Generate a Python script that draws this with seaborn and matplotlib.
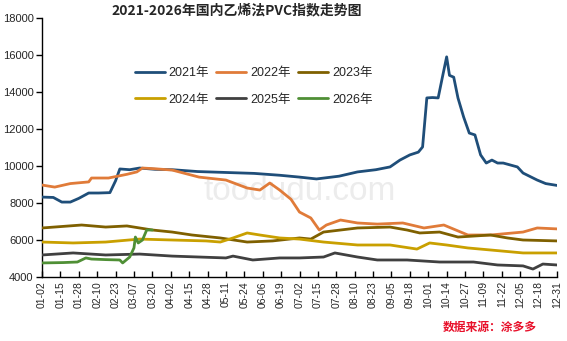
import numpy as np
import pandas as pd
import matplotlib
matplotlib.use("Agg")
import matplotlib.pyplot as plt
import seaborn as sns
import datetime as dt

sns.set_theme(style="white")
plt.rcParams['font.family'] = ['Liberation Sans', 'Noto Sans CJK SC']

# day index from 01-02 (leap-year calendar for the mm-dd tick labels)
days_2021 = [0, 8, 14, 20, 26, 33, 40, 48, 52, 55, 62, 69, 80, 92, 110, 130, 150, 168, 182, 194, 210, 223, 236, 246, 253, 260, 266, 269, 272, 276, 280, 283, 286, 288, 291, 294, 298, 302, 306, 310, 314, 318, 322, 326, 336, 340, 350, 356, 364]
vals_2021 = [8320, 8300, 8050, 8050, 8250, 8540, 8540, 8560, 9200, 9840, 9800, 9890, 9820, 9800, 9700, 9650, 9600, 9500, 9400, 9300, 9450, 9680, 9800, 9950, 10320, 10600, 10750, 11030, 13680, 13700, 13680, 14800, 15900, 14900, 14800, 13680, 12650, 11780, 11680, 10600, 10160, 10320, 10160, 10160, 9950, 9620, 9240, 9050, 8950]

days_2022 = [0, 9, 20, 33, 35, 47, 60, 67, 71, 80, 92, 111, 130, 145, 154, 161, 168, 176, 182, 190, 196, 201, 211, 223, 237, 255, 270, 284, 301, 317, 340, 350, 364]
vals_2022 = [8970, 8860, 9050, 9140, 9350, 9350, 9550, 9680, 9890, 9850, 9780, 9400, 9240, 8810, 8700, 9080, 8700, 8200, 7510, 7190, 6540, 6810, 7080, 6920, 6860, 6920, 6650, 6810, 6270, 6270, 6430, 6650, 6600]

days_2023 = [0, 28, 45, 60, 78, 92, 106, 126, 145, 163, 182, 190, 199, 211, 223, 246, 258, 267, 281, 294, 317, 329, 340, 364]
vals_2023 = [6650, 6810, 6700, 6760, 6540, 6430, 6270, 6110, 5890, 5950, 6110, 6050, 6430, 6540, 6650, 6700, 6540, 6380, 6430, 6160, 6270, 6110, 6000, 5950]

days_2024 = [0, 22, 45, 69, 92, 116, 126, 135, 145, 154, 168, 182, 199, 223, 246, 265, 274, 286, 301, 317, 340, 364]
vals_2024 = [5890, 5840, 5890, 6050, 6000, 5950, 5890, 6110, 6380, 6270, 6110, 6050, 5890, 5730, 5730, 5510, 5840, 5730, 5570, 5460, 5300, 5300]

days_2025 = [0, 22, 45, 69, 92, 111, 130, 135, 149, 168, 182, 199, 207, 223, 237, 258, 281, 305, 322, 340, 347, 354, 364]
vals_2025 = [5190, 5300, 5190, 5240, 5130, 5080, 5030, 5130, 4920, 5030, 5030, 5080, 5300, 5080, 4920, 4920, 4810, 4810, 4650, 4600, 4430, 4700, 4650]

days_2026 = [0, 15, 25, 31, 35, 45, 55, 57, 62, 65, 66, 68, 71, 74, 78]
vals_2026 = [4760, 4780, 4810, 5030, 4970, 4940, 4920, 4760, 5080, 5570, 6160, 5840, 6000, 6540, 6540]

series_names = ['2021年', '2022年', '2023年', '2024年', '2025年', '2026年']
colors = ['#1f4e79', '#e07b39', '#7f6000', '#c9a000', '#404040', '#4f8f35']

y_ticks = [4000, 6000, 8000, 10000, 12000, 14000, 16000, 18000]
base = dt.date(2020, 1, 2)
x_ticks = list(range(0, 365, 13))
x_labels = [(base + dt.timedelta(days=d)).strftime('%m-%d') for d in x_ticks]

frames = []
for name, d, v in zip(series_names,
                      [days_2021, days_2022, days_2023, days_2024, days_2025, days_2026],
                      [vals_2021, vals_2022, vals_2023, vals_2024, vals_2025, vals_2026]):
    frames.append(pd.DataFrame({'day': d, 'value': v, 'year': name}))
df = pd.concat(frames, ignore_index=True)

fig = plt.figure(figsize=(5.67, 3.41), dpi=100)
ax = fig.add_axes([42/567, 1-277/341, 515/567, 259/341])

# watermark
ax.text(0.5, 0.33, 'toodudu.com', transform=ax.transAxes, ha='center', va='center',
        fontsize=24, color='#ececec', zorder=0)

sns.lineplot(data=df, x='day', y='value', hue='year', palette=colors,
             estimator=None, sort=False, linewidth=2.0, ax=ax, zorder=3)

ax.set_xlim(0, 364)
ax.set_ylim(4000, 18000)
ax.set_yticks(y_ticks)
ax.set_yticklabels([str(t) for t in y_ticks], fontsize=8)
ax.set_xticks(x_ticks)
ax.set_xticklabels(x_labels, rotation=90, fontsize=7.5)
ax.set_xlabel('')
ax.set_ylabel('')
for s in ['top', 'right']:
    ax.spines[s].set_visible(False)
for s in ['left', 'bottom']:
    ax.spines[s].set_color('black')
    ax.spines[s].set_linewidth(1.0)
ax.tick_params(axis='y', direction='out', length=4, width=1, color='black', pad=2, left=True)
ax.tick_params(axis='x', direction='in', length=4, width=1, color='black', pad=3, bottom=True)
ax.grid(False)

handles, labels = ax.get_legend_handles_labels()
order = [0, 3, 1, 4, 2, 5]  # row-major layout in a 2x3 legend
ax.legend([handles[i] for i in order], [labels[i] for i in order], ncol=3, frameon=False,
          loc='upper left', bbox_to_anchor=(0.18, 0.81), borderaxespad=0, borderpad=0,
          fontsize=9, handlelength=2.4, handletextpad=0.3, columnspacing=0.6,
          labelspacing=1.15)

fig.text(237/567, 1-10/341, '2021-2026年国内乙烯法PVC指数走势图', ha='center', va='center',
         fontsize=10, fontweight='bold', family=['Noto Sans CJK SC'])
fig.text(490/567, 1-327/341, '数据来源：涂多多', ha='center', va='center',
         fontsize=8.5, fontweight='bold', color='#e8102a', family=['Noto Sans CJK SC'])

fig.savefig('out.png', dpi=100)
